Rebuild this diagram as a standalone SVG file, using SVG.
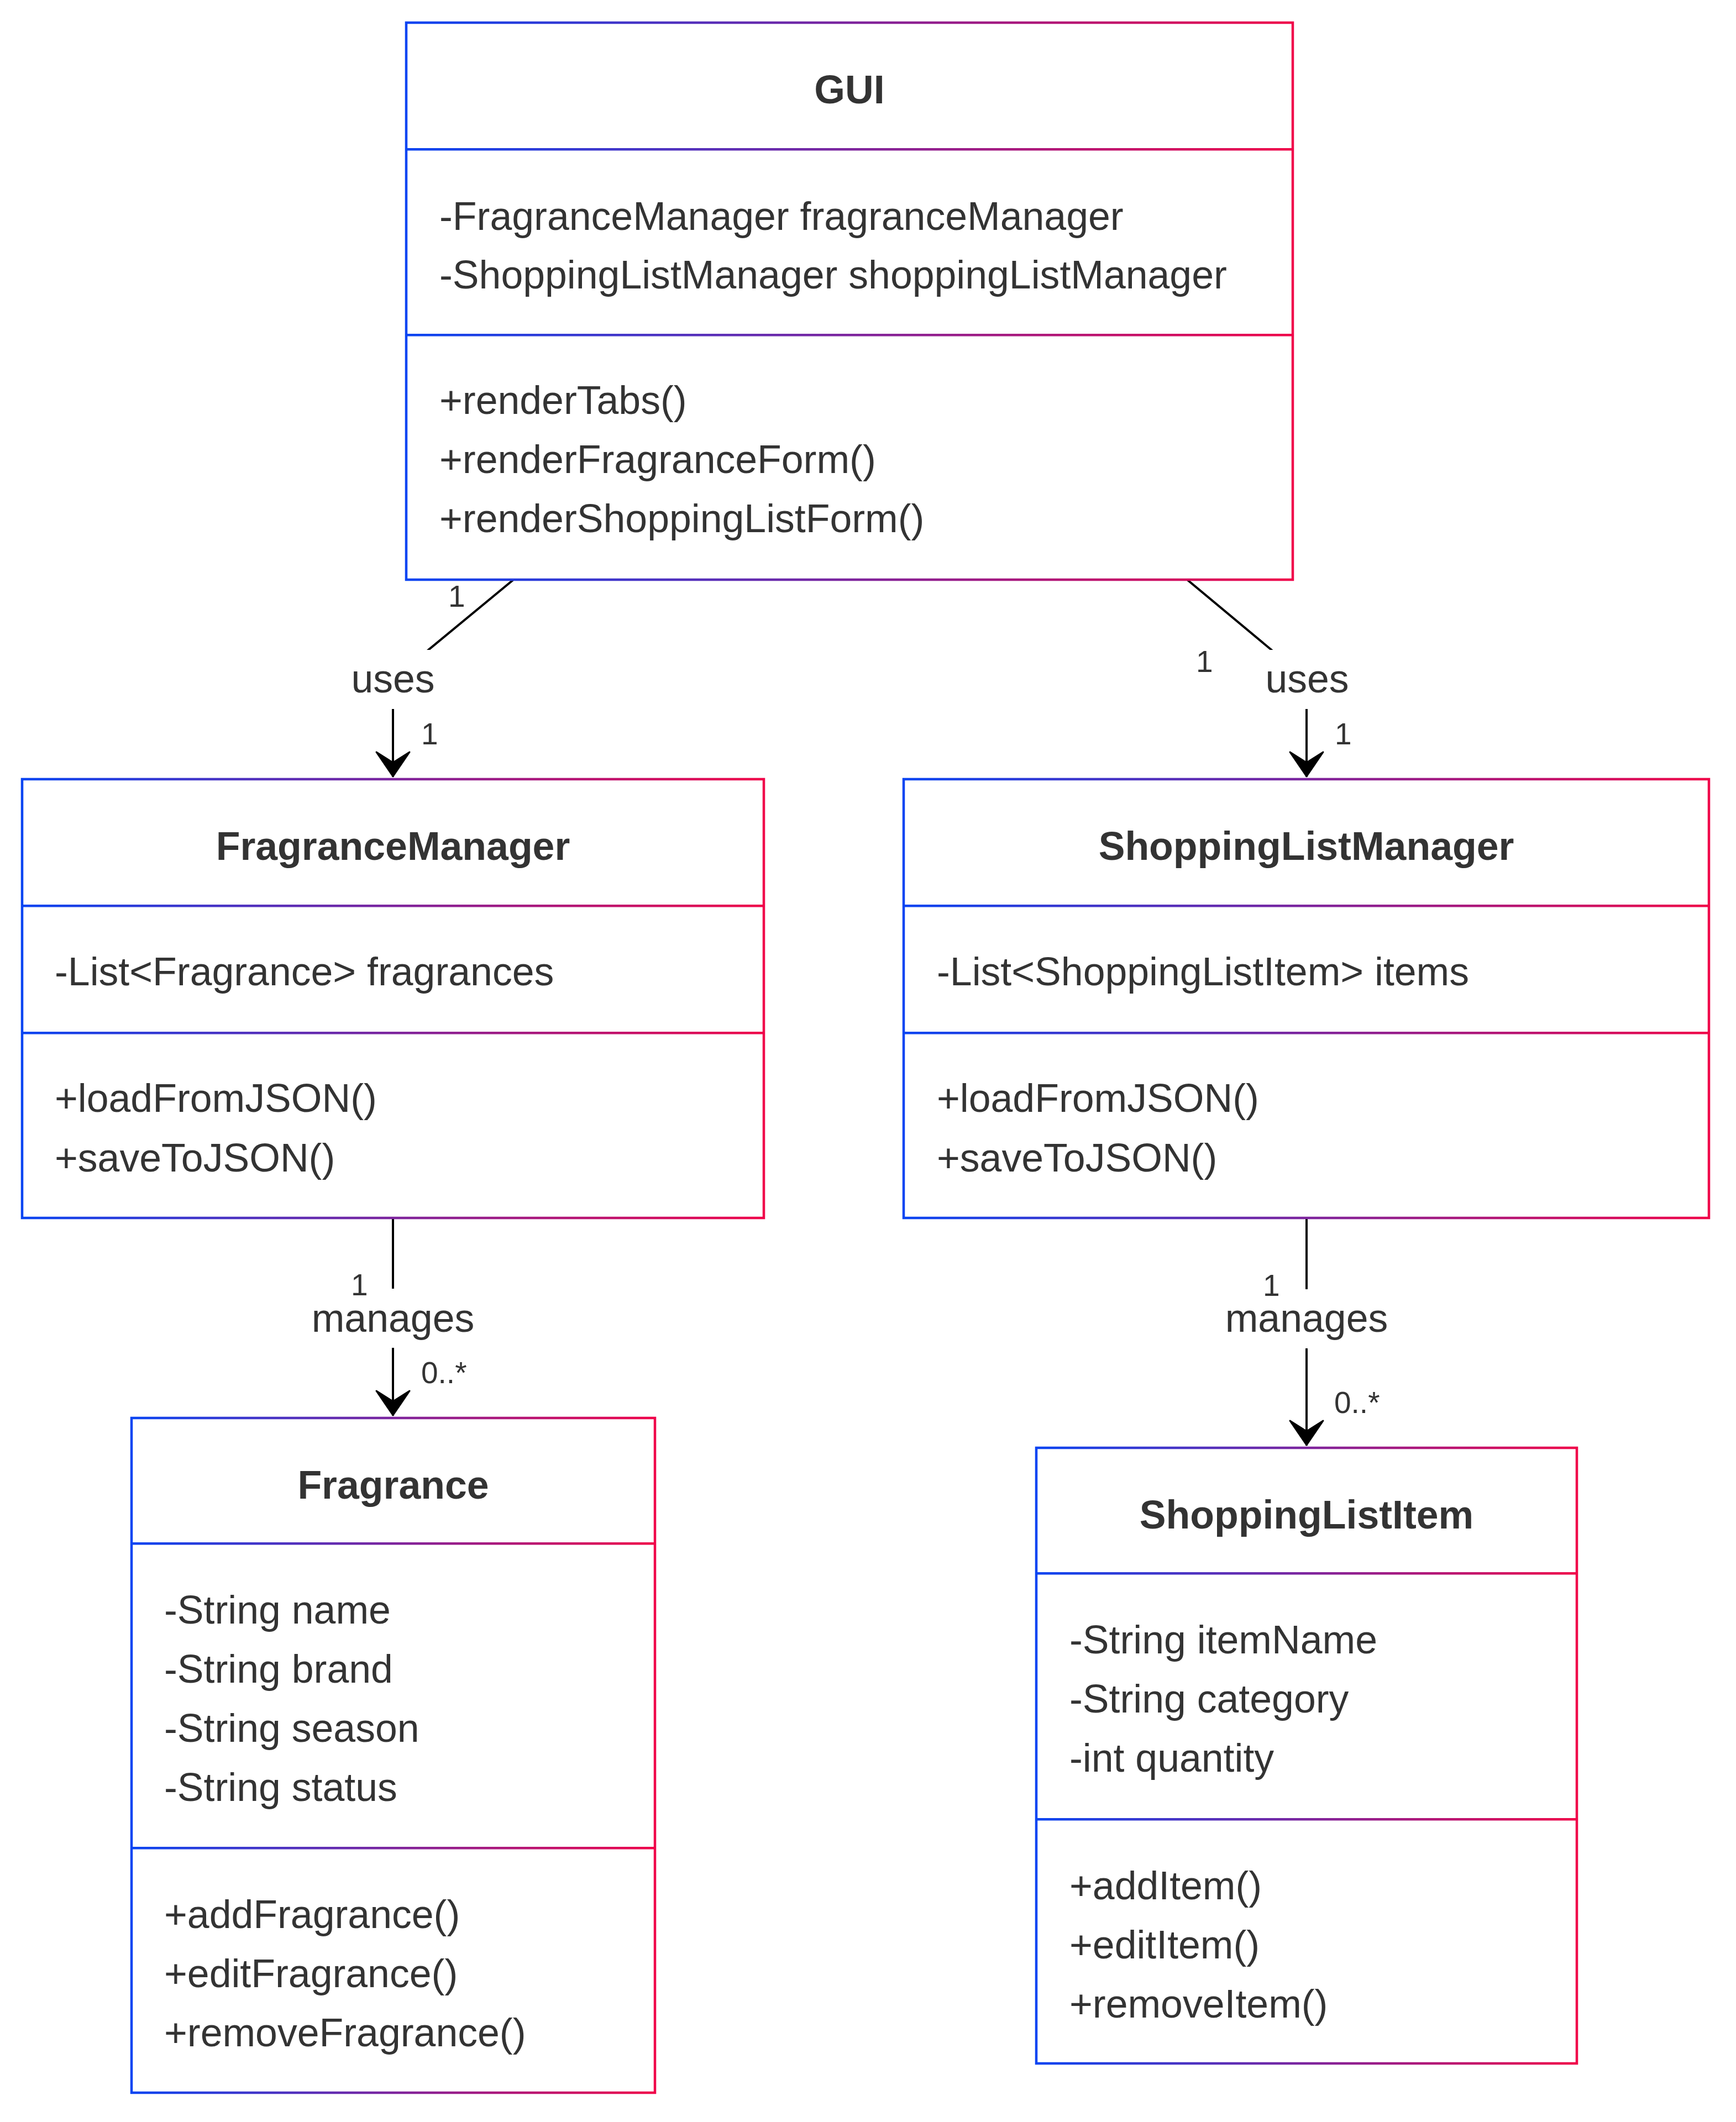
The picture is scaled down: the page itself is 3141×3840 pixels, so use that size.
<svg xmlns="http://www.w3.org/2000/svg" width="3141" height="3840" viewBox="0 0 3141 3840">
<defs>
<linearGradient id="g" x1="0" y1="0" x2="1" y2="0" gradientUnits="objectBoundingBox">
<stop offset="0" stop-color="#0a45f2"/>
<stop offset="1" stop-color="#f0054a"/>
</linearGradient>
<marker id="arr" markerUnits="userSpaceOnUse" viewBox="-50 -36 56 72" refX="0" refY="0" markerWidth="56" markerHeight="72" orient="auto" overflow="visible">
<path d="M-1,0 L-45,-30 L-26,0 L-45,30 Z" fill="#000" stroke="#000" stroke-width="3" stroke-linejoin="round"/>
</marker>
<style>
.box{fill:#fff;stroke:url(#g);stroke-width:4.5}
.sep{fill:url(#g)}
.t{font-family:"Liberation Sans",Arial,sans-serif;font-size:71.6px;fill:#333}
.h{font-family:"Liberation Sans",Arial,sans-serif;font-size:71.6px;font-weight:bold;fill:#333;text-anchor:middle}
.m{font-family:"Liberation Sans",Arial,sans-serif;font-size:55px;fill:#333}
.lbl{font-family:"Liberation Sans",Arial,sans-serif;font-size:71.6px;fill:#333;text-anchor:middle}
.edge{fill:none;stroke:#000;stroke-width:4}
.lbg{fill:#fff}
</style>
</defs>
<rect width="3141" height="3840" fill="#fff"/>

<g id="connectors">
<path class="edge" d="M929,1049 L711,1229 L711,1406" marker-end="url(#arr)"/>
<path class="edge" d="M2148,1049 L2364,1229 L2364,1406" marker-end="url(#arr)"/>
<path class="edge" d="M711,2204 L711,2562" marker-end="url(#arr)"/>
<path class="edge" d="M2364,2204 L2364,2616" marker-end="url(#arr)"/>
<rect class="lbg" x="631" y="1176" width="160" height="107"/>
<rect class="lbg" x="2284" y="1176" width="160" height="107"/>
<rect class="lbg" x="561" y="2332" width="300" height="107"/>
<rect class="lbg" x="2214" y="2333" width="300" height="107"/>
<text class="lbl" x="711" y="1253">uses</text>
<text class="lbl" x="2365" y="1253">uses</text>
<text class="lbl" x="711" y="2410">manages</text>
<text class="lbl" x="2364" y="2410">manages</text>
<text class="m" x="811" y="1098">1</text>
<text class="m" x="762" y="1347">1</text>
<text class="m" x="2164" y="1216">1</text>
<text class="m" x="2415" y="1347">1</text>
<text class="m" x="635" y="2344">1</text>
<text class="m" x="762" y="2503">0..*</text>
<text class="m" x="2285" y="2345">1</text>
<text class="m" x="2414" y="2557">0..*</text>
</g>

<g id="GUI">
<rect class="box" x="735" y="41" width="1604" height="1008"/>
<rect class="sep" x="735" y="268" width="1604" height="4.5"/>
<rect class="sep" x="735" y="604" width="1604" height="4.5"/>
<text class="h" x="1537" y="187">GUI</text>
<text class="t" x="795" y="416">-FragranceManager fragranceManager</text>
<text class="t" x="795" y="522">-ShoppingListManager shoppingListManager</text>
<text class="t" x="795" y="749">+renderTabs()</text>
<text class="t" x="795" y="856">+renderFragranceForm()</text>
<text class="t" x="795" y="963">+renderShoppingListForm()</text>
</g>

<g id="FragranceManager">
<rect class="box" x="40" y="1410" width="1342" height="794"/>
<rect class="sep" x="40" y="1637" width="1342" height="4.5"/>
<rect class="sep" x="40" y="1867" width="1342" height="4.5"/>
<text class="h" x="711" y="1556">FragranceManager</text>
<text class="t" x="99" y="1783">-List&lt;Fragrance&gt; fragrances</text>
<text class="t" x="99" y="2012">+loadFromJSON()</text>
<text class="t" x="99" y="2120">+saveToJSON()</text>
</g>

<g id="ShoppingListManager">
<rect class="box" x="1635" y="1410" width="1457" height="794"/>
<rect class="sep" x="1635" y="1637" width="1457" height="4.5"/>
<rect class="sep" x="1635" y="1867" width="1457" height="4.5"/>
<text class="h" x="2363.5" y="1556">ShoppingListManager</text>
<text class="t" x="1695" y="1783">-List&lt;ShoppingListItem&gt; items</text>
<text class="t" x="1695" y="2012">+loadFromJSON()</text>
<text class="t" x="1695" y="2120">+saveToJSON()</text>
</g>

<g id="Fragrance">
<rect class="box" x="238" y="2566" width="947" height="1221"/>
<rect class="sep" x="238" y="2791" width="947" height="4.5"/>
<rect class="sep" x="238" y="3342" width="947" height="4.5"/>
<text class="h" x="711.5" y="2712">Fragrance</text>
<text class="t" x="297" y="2938">-String name</text>
<text class="t" x="297" y="3045">-String brand</text>
<text class="t" x="297" y="3152">-String season</text>
<text class="t" x="297" y="3259">-String status</text>
<text class="t" x="297" y="3489">+addFragrance()</text>
<text class="t" x="297" y="3596">+editFragrance()</text>
<text class="t" x="297" y="3703">+removeFragrance()</text>
</g>

<g id="ShoppingListItem">
<rect class="box" x="1875" y="2620" width="978" height="1114"/>
<rect class="sep" x="1875" y="2845" width="978" height="4.5"/>
<rect class="sep" x="1875" y="3290" width="978" height="4.5"/>
<text class="h" x="2364" y="2766">ShoppingListItem</text>
<text class="t" x="1935" y="2992">-String itemName</text>
<text class="t" x="1935" y="3099">-String category</text>
<text class="t" x="1935" y="3206">-int quantity</text>
<text class="t" x="1935" y="3437">+addItem()</text>
<text class="t" x="1935" y="3544">+editItem()</text>
<text class="t" x="1935" y="3651">+removeItem()</text>
</g>
</svg>
